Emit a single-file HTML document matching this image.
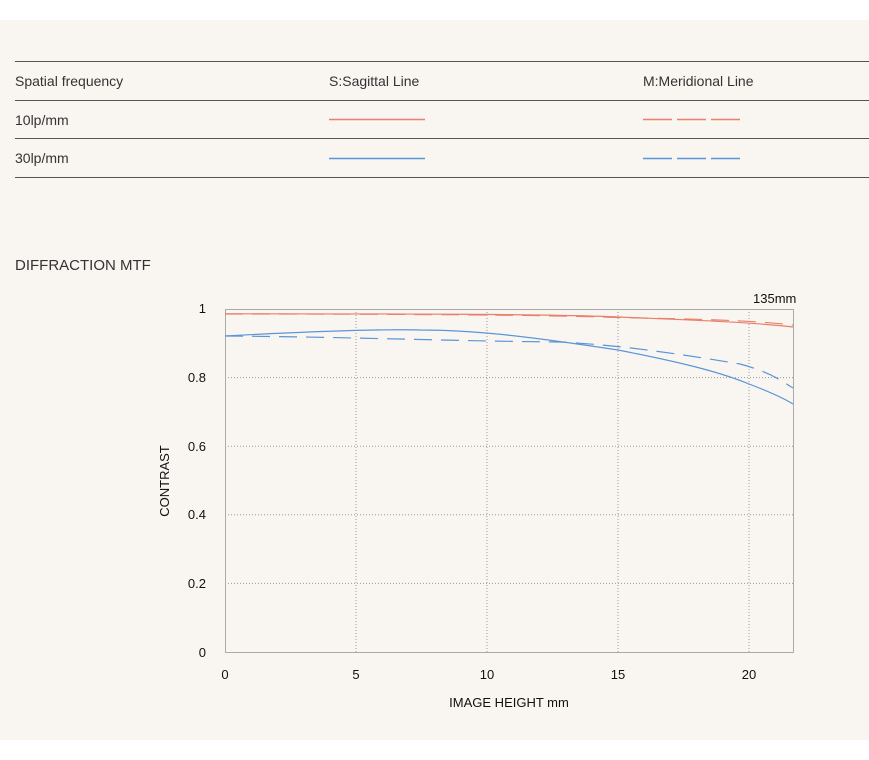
<!DOCTYPE html>
<html><head><style>
body{margin:0;width:869px;height:760px;background:#fff;font-family:"Liberation Sans",sans-serif;}
svg{display:block}
</style></head><body>
<svg width="869" height="760" xmlns="http://www.w3.org/2000/svg" font-family="Liberation Sans, sans-serif">
<rect x="0" y="20" width="869" height="720" fill="#f9f6f1"/>
<g stroke="#555" stroke-width="1">
<line x1="15" y1="61.5" x2="869" y2="61.5"/>
<line x1="15" y1="100.5" x2="869" y2="100.5"/>
<line x1="15" y1="138.5" x2="869" y2="138.5"/>
<line x1="15" y1="177.5" x2="869" y2="177.5"/>
</g>
<g font-size="14" fill="#333">
<text x="15" y="86">Spatial frequency</text>
<text x="329" y="86">S:Sagittal Line</text>
<text x="643" y="86">M:Meridional Line</text>
<text x="15" y="125">10lp/mm</text>
<text x="15" y="163">30lp/mm</text>
<text x="15" y="270" font-size="15">DIFFRACTION MTF</text>
</g>
<line x1="329" y1="119.5" x2="425" y2="119.5" stroke="#e8806a" stroke-width="1.5"/>
<line x1="643" y1="119.5" x2="740" y2="119.5" stroke="#e8806a" stroke-width="1.5" stroke-dasharray="29,5"/>
<line x1="329" y1="158.5" x2="425" y2="158.5" stroke="#5a95d8" stroke-width="1.5"/>
<line x1="643" y1="158.5" x2="740" y2="158.5" stroke="#5a95d8" stroke-width="1.5" stroke-dasharray="29,5"/>
<g stroke="#999" stroke-width="1" stroke-dasharray="1,2">
<line x1="356" y1="309" x2="356" y2="652"/>
<line x1="487" y1="309" x2="487" y2="652"/>
<line x1="618" y1="309" x2="618" y2="652"/>
<line x1="749" y1="309" x2="749" y2="652"/>
<line x1="225" y1="377.6" x2="793" y2="377.6"/>
<line x1="225" y1="446.2" x2="793" y2="446.2"/>
<line x1="225" y1="514.8" x2="793" y2="514.8"/>
<line x1="225" y1="583.4" x2="793" y2="583.4"/>
</g>
<rect x="225.5" y="309.5" width="568" height="343" fill="none" stroke="#aaa"/>
<g fill="none" stroke-width="1.2">
<path d="M225,313.8 C400,313.8 550,314 618,317 C690,320 750,322 793,327" stroke="#e8806a"/>
<path d="M225,314 C400,314 550,315 618,317.5 C690,319 750,320 793,325" stroke="#e8806a" stroke-dasharray="18,9"/>
<path d="M225,336 C300,332 380,329 420,330 C470,330 520,335 618,350 C680,362 720,372 749,384 C770,392 785,399 793,404" stroke="#5a95d8"/>
<path d="M225,336 C350,337 450,341 560,342 C620,345 680,354 740,364 C770,372 780,380 793,388" stroke="#5a95d8" stroke-dasharray="18,9"/>
</g>
<g font-size="13" fill="#111">
<text x="753" y="303">135mm</text>
<g text-anchor="end">
<text x="206" y="313">1</text>
<text x="206" y="382">0.8</text>
<text x="206" y="451">0.6</text>
<text x="206" y="519">0.4</text>
<text x="206" y="588">0.2</text>
<text x="206" y="657">0</text>
</g>
<g text-anchor="middle">
<text x="225" y="679">0</text>
<text x="356" y="679">5</text>
<text x="487" y="679">10</text>
<text x="618" y="679">15</text>
<text x="749" y="679">20</text>
<text x="509" y="707">IMAGE HEIGHT  mm</text>
</g>
<text transform="translate(169,481) rotate(-90)" text-anchor="middle">CONTRAST</text>
</g>
</svg>
</body></html>
